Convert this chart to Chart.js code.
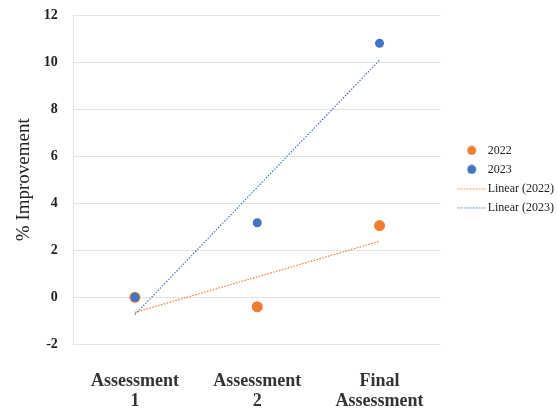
<!DOCTYPE html>
<html>
<head>
<meta charset="utf-8">
<script src="https://cdn.jsdelivr.net/npm/chart.js@4.4.0/dist/chart.umd.min.js"></script>
<style>
    html, body { margin: 0; padding: 0; background: #fff; }
    #wrap { width: 557px; height: 408px; }
</style>
</head>
<body>
<div id="wrap"><canvas id="chart"></canvas></div>
<script>
const categories = [['Assessment', '1'], ['Assessment', '2'], ['Final', 'Assessment']];
const improvement2022 = [0, -0.4, 3.05];
const improvement2023 = [0, 3.17, 10.8];
const trend2022 = [-0.64, null, 2.38];
const trend2023 = [-0.73, null, 10.08];
const yTicks = [-2, 0, 2, 4, 6, 8, 10, 12];

const ORANGE = '#ED7D31';
const BLUE = '#4472C4';
const SERIF = '"Liberation Serif", "Times New Roman", serif';

// legend swatches: a wide canvas so the marker can sit away from the box edge
function legendSwatch(color, kind) {
    const c = document.createElement('canvas');
    c.width = 44;
    c.height = 10;
    const g = c.getContext('2d');
    if (kind === 'dot') {
        g.fillStyle = color;
        g.beginPath();
        g.arc(29, 5, 4.5, 0, Math.PI * 2);
        g.fill();
    } else {
        g.strokeStyle = color;
        g.lineWidth = 1.2;
        g.setLineDash([1.5, 1.5]);
        g.beginPath();
        g.moveTo(15, 5.5);
        g.lineTo(43, 5.5);
        g.stroke();
    }
    return c;
}
const swatches = [
    legendSwatch(ORANGE, 'dot'),
    legendSwatch(BLUE, 'dot'),
    legendSwatch(ORANGE, 'line'),
    legendSwatch(BLUE, 'line')
];

const ctx = document.getElementById('chart').getContext('2d');
new Chart(ctx, {
    type: 'line',
    data: {
        labels: categories,
        datasets: [
            {
                label: '2022',
                data: improvement2022,
                showLine: false,
                pointRadius: 5.5,
                pointBackgroundColor: ORANGE,
                pointBorderColor: ORANGE,
                pointBorderWidth: 0,
                borderColor: ORANGE,
                backgroundColor: ORANGE,
                order: 1
            },
            {
                label: '2023',
                data: improvement2023,
                showLine: false,
                pointRadius: 4.5,
                pointBackgroundColor: BLUE,
                pointBorderColor: BLUE,
                pointBorderWidth: 0,
                borderColor: BLUE,
                backgroundColor: BLUE,
                order: 0
            },
            {
                label: 'Linear (2022)',
                data: trend2022,
                spanGaps: true,
                borderColor: ORANGE,
                backgroundColor: ORANGE,
                borderWidth: 1.2,
                borderDash: [1.5, 1.5],
                pointRadius: 0,
                order: 2
            },
            {
                label: 'Linear (2023)',
                data: trend2023,
                spanGaps: true,
                borderColor: BLUE,
                backgroundColor: BLUE,
                borderWidth: 1.2,
                borderDash: [1.5, 1.5],
                pointRadius: 0,
                order: 3
            }
        ]
    },
    options: {
        responsive: true,
        maintainAspectRatio: false,
        animation: false,
        layout: { padding: { left: 11, top: 15, right: -7, bottom: -30 } },
        plugins: {
            tooltip: { enabled: false },
            legend: {
                position: 'right',
                align: 'start',
                title: { display: true, text: '', padding: { top: 108, bottom: 0 } },
                labels: {
                    usePointStyle: true,
                    pointStyleWidth: 34,
                    boxWidth: 34,
                    boxHeight: 7,
                    padding: 7,
                    color: '#222',
                    font: { family: SERIF, size: 12 },
                    sort: (a, b) => a.datasetIndex - b.datasetIndex,
                    generateLabels: chart => {
                        const items = Chart.defaults.plugins.legend.labels.generateLabels(chart);
                        items.forEach(it => {
                            it.pointStyle = swatches[it.datasetIndex];
                            it.lineWidth = 0;
                        });
                        return items;
                    }
                }
            }
        },
        scales: {
            x: {
                type: 'category',
                offset: true,
                grid: { display: false, drawTicks: false },
                border: { display: false },
                ticks: {
                    padding: 27,
                    color: '#333',
                    font: { family: SERIF, size: 18, weight: 'bold', lineHeight: 1.1 },
                    maxRotation: 0
                }
            },
            y: {
                min: -2,
                max: 12,
                afterBuildTicks: axis => { axis.ticks = yTicks.map(v => ({ value: v })); },
                afterFit: s => { s.paddingTop = 0; s.paddingBottom = 0; },
                grid: { color: '#e3e3e3', lineWidth: 1, drawTicks: false },
                border: { display: true, color: '#e3e3e3' },
                ticks: {
                    padding: 16,
                    color: '#222',
                    font: { family: SERIF, size: 14, weight: 'bold' }
                },
                title: {
                    display: true,
                    text: '% Improvement',
                    color: '#222',
                    font: { family: SERIF, size: 19 },
                    padding: { top: 2, bottom: -8 }
                }
            }
        }
    }
});
</script>
</body>
</html>
